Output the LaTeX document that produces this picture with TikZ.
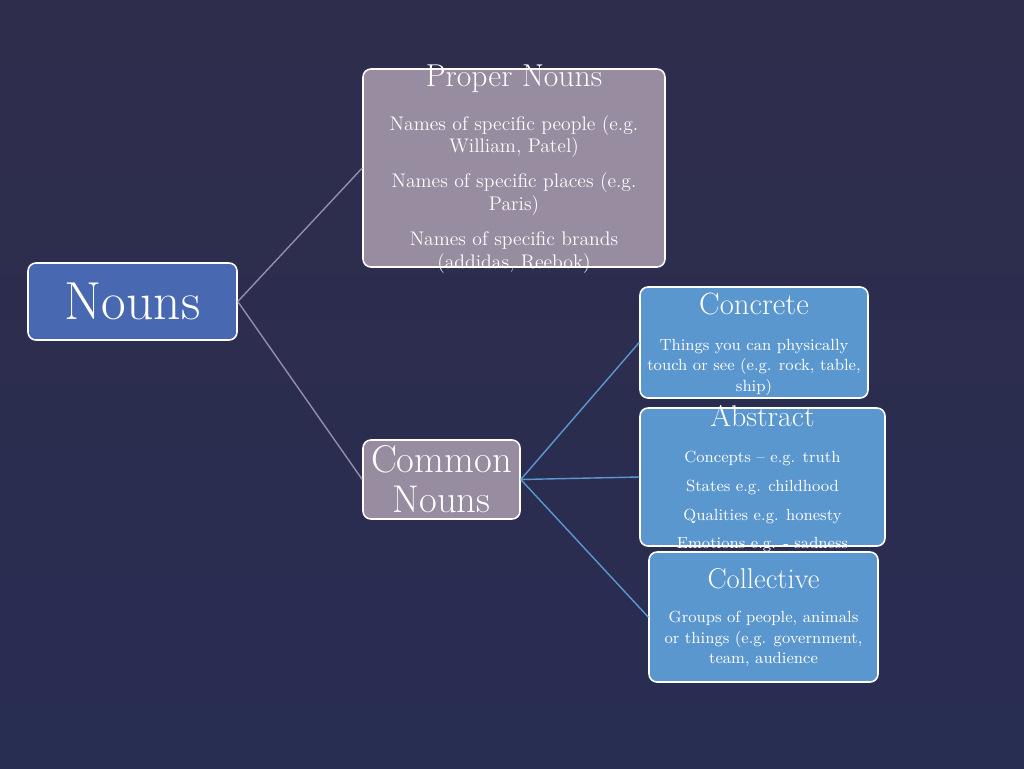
\documentclass[tikz,border=0pt]{standalone}
\usepackage{xcolor}
\usepackage{tikz}
\usetikzlibrary{positioning}
\definecolor{slidebgtop}{RGB}{47,45,76}
\definecolor{slidebgbot}{RGB}{40,45,82}
\definecolor{nounblue}{RGB}{72,104,178}
\definecolor{mauve}{RGB}{152,140,160}
\definecolor{skyblue}{RGB}{91,151,207}
\definecolor{mauveline}{RGB}{150,140,168}

\begin{document}
\begin{tikzpicture}[x=0.02cm,y=-0.02cm,
    box/.style={draw=white,line width=0.9pt,rounded corners=4.5pt,inner sep=0pt,text=white},
    title/.style={text=white,inner sep=0pt},
    body/.style={text=white,inner sep=0pt,align=center},
    link/.style={line width=0.8pt}]
  % slide background
  \shade[top color=slidebgtop,bottom color=slidebgbot] (0,0) rectangle (1024,768);
  \useasboundingbox (0,0) rectangle (1024,768);

  \node[box,fill=nounblue,minimum width=4.18cm,minimum height=1.54cm,
        font=\fontsize{30.5}{33}\selectfont] (nouns) at (132.5,301.5) {Nouns};

  \node[box,fill=mauve,minimum width=6.04cm,minimum height=3.96cm] (proper) at (514,168) {};
  \node[title,font=\fontsize{18}{21}\selectfont] (propertitle) at (514,79) {Proper Nouns};
  \node[body,anchor=north,font=\fontsize{11.2}{13}\selectfont] (properbody) at (514,115)
    {Names of specific people (e.g.\\William, Patel)\\[6.8pt]
     Names of specific places (e.g.\\Paris)\\[6.8pt]
     Names of specific brands\\(addidas, Reebok)};

  \node[box,fill=mauve,minimum width=3.14cm,minimum height=1.58cm,align=center,
        font=\fontsize{22}{22.7}\selectfont] (common) at (441.5,479.5) {Common\\Nouns};

  \node[box,fill=skyblue,minimum width=4.56cm,minimum height=2.22cm] (concrete) at (754,342.5) {};
  \node[title,font=\fontsize{17.5}{20}\selectfont] (concretetitle) at (754,304) {Concrete};
  \node[body,anchor=north,font=\fontsize{9.2}{11.6}\selectfont] (concretebody) at (754,339)
    {Things you can physically\\touch or see (e.g. rock, table,\\ship)};

  \node[box,fill=skyblue,minimum width=4.9cm,minimum height=2.76cm] (abstract) at (762.5,477) {};
  \node[title,font=\fontsize{17}{20}\selectfont] (abstracttitle) at (762.5,416) {Abstract};
  \node[body,anchor=north,font=\fontsize{9.2}{11.6}\selectfont] (abstractbody) at (762.5,451)
    {Concepts -- e.g. truth\\[4.7pt]States e.g. childhood\\[4.7pt]
     Qualities e.g. honesty\\[4.7pt]Emotions e.g. - sadness};

  \node[box,fill=skyblue,minimum width=4.58cm,minimum height=2.6cm] (collective) at (763.5,617) {};
  \node[title,font=\fontsize{16.3}{19}\selectfont] (collectivetitle) at (763.5,579) {Collective};
  \node[body,anchor=north,font=\fontsize{9.2}{11.6}\selectfont] (collectivebody) at (763.5,611)
    {Groups of people, animals\\or things (e.g. government,\\team, audience};

  % connectors
  \draw[link,mauveline] (nouns.east) -- (proper.west);
  \draw[link,mauveline] (nouns.east) -- (common.west);
  \draw[link,skyblue] (common.east) -- (concrete.west);
  \draw[link,skyblue] (common.east) -- (abstract.west);
  \draw[link,skyblue] (common.east) -- (collective.west);
\end{tikzpicture}
\end{document}
